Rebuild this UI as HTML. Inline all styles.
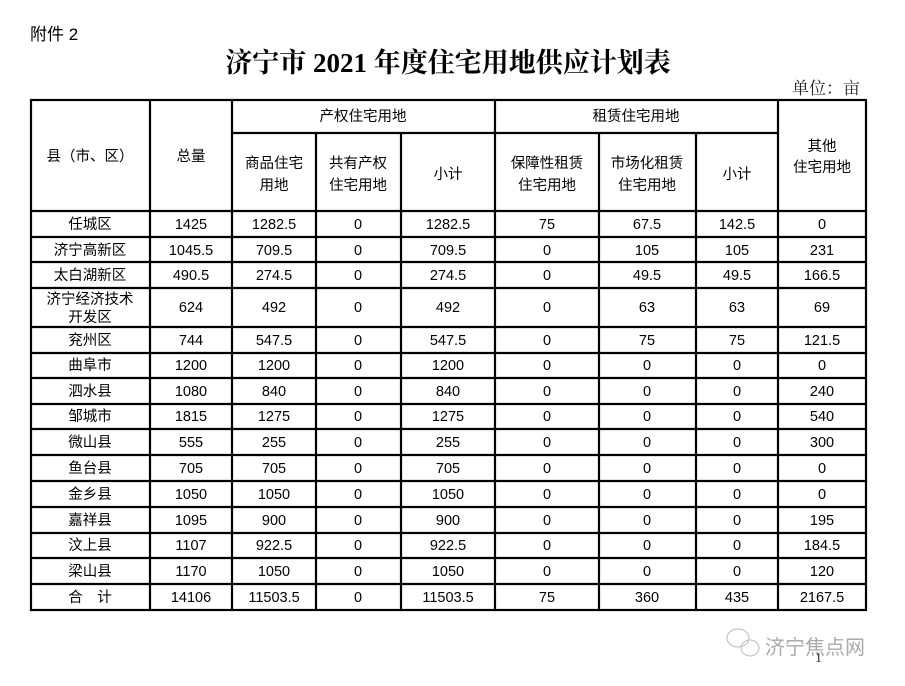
<!DOCTYPE html>
<html><head><meta charset="utf-8"><style>
html,body{margin:0;padding:0;background:#fff;width:905px;height:686px;overflow:hidden}
svg{display:block}
.t text{font-family:"Liberation Sans","Noto Sans CJK SC",sans-serif;font-size:14.5px;fill:#000;text-anchor:middle}
</style></head><body>
<svg width="905" height="686" xmlns="http://www.w3.org/2000/svg">
<text x="30" y="40" style="font-family:'Liberation Sans','Noto Sans CJK SC',sans-serif;font-size:17px">附件 2</text>
<text x="448" y="72" style="font-family:'Liberation Serif','Noto Serif CJK SC',serif;font-size:27px;font-weight:bold;text-anchor:middle">济宁市 2021 年度住宅用地供应计划表</text>
<text x="860" y="94" style="font-family:'Liberation Serif','Noto Serif CJK SC',serif;font-size:17px;text-anchor:end;fill:#222">单位：亩</text>
<g stroke="#000" stroke-width="2.2" fill="none">
<rect x="31" y="100" width="835" height="510"/>
<line x1="232" y1="133" x2="778" y2="133"/>
<line x1="31" y1="211" x2="866" y2="211"/>
<line x1="150" y1="100" x2="150" y2="610"/>
<line x1="232" y1="100" x2="232" y2="610"/>
<line x1="316" y1="133" x2="316" y2="610"/>
<line x1="401" y1="133" x2="401" y2="610"/>
<line x1="495" y1="100" x2="495" y2="610"/>
<line x1="599" y1="133" x2="599" y2="610"/>
<line x1="696" y1="133" x2="696" y2="610"/>
<line x1="778" y1="100" x2="778" y2="610"/>
<line x1="31" y1="237" x2="866" y2="237"/>
<line x1="31" y1="262" x2="866" y2="262"/>
<line x1="31" y1="288" x2="866" y2="288"/>
<line x1="31" y1="327" x2="866" y2="327"/>
<line x1="31" y1="353" x2="866" y2="353"/>
<line x1="31" y1="378" x2="866" y2="378"/>
<line x1="31" y1="404" x2="866" y2="404"/>
<line x1="31" y1="429" x2="866" y2="429"/>
<line x1="31" y1="455" x2="866" y2="455"/>
<line x1="31" y1="481" x2="866" y2="481"/>
<line x1="31" y1="507" x2="866" y2="507"/>
<line x1="31" y1="533" x2="866" y2="533"/>
<line x1="31" y1="558" x2="866" y2="558"/>
<line x1="31" y1="584" x2="866" y2="584"/>
</g>
<g class="t">
<text x="90" y="161">县（市、区）</text>
<text x="191" y="161">总量</text>
<text x="363" y="121">产权住宅用地</text>
<text x="636" y="121">租赁住宅用地</text>
<text x="274" y="168">商品住宅</text><text x="274" y="190">用地</text>
<text x="358" y="168">共有产权</text><text x="358" y="190">住宅用地</text>
<text x="448" y="179">小计</text>
<text x="547" y="168">保障性租赁</text><text x="547" y="190">住宅用地</text>
<text x="647" y="168">市场化租赁</text><text x="647" y="190">住宅用地</text>
<text x="737" y="179">小计</text>
<text x="822" y="151">其他</text><text x="822" y="172">住宅用地</text>

<text x="90" y="229">任城区</text><text x="191" y="229">1425</text><text x="274" y="229">1282.5</text><text x="358" y="229">0</text><text x="448" y="229">1282.5</text><text x="547" y="229">75</text><text x="647" y="229">67.5</text><text x="737" y="229">142.5</text><text x="822" y="229">0</text>
<text x="90" y="255">济宁高新区</text><text x="191" y="255">1045.5</text><text x="274" y="255">709.5</text><text x="358" y="255">0</text><text x="448" y="255">709.5</text><text x="547" y="255">0</text><text x="647" y="255">105</text><text x="737" y="255">105</text><text x="822" y="255">231</text>
<text x="90" y="280">太白湖新区</text><text x="191" y="280">490.5</text><text x="274" y="280">274.5</text><text x="358" y="280">0</text><text x="448" y="280">274.5</text><text x="547" y="280">0</text><text x="647" y="280">49.5</text><text x="737" y="280">49.5</text><text x="822" y="280">166.5</text>
<text x="90" y="304">济宁经济技术</text><text x="90" y="322">开发区</text><text x="191" y="312">624</text><text x="274" y="312">492</text><text x="358" y="312">0</text><text x="448" y="312">492</text><text x="547" y="312">0</text><text x="647" y="312">63</text><text x="737" y="312">63</text><text x="822" y="312">69</text>
<text x="90" y="345">兖州区</text><text x="191" y="345">744</text><text x="274" y="345">547.5</text><text x="358" y="345">0</text><text x="448" y="345">547.5</text><text x="547" y="345">0</text><text x="647" y="345">75</text><text x="737" y="345">75</text><text x="822" y="345">121.5</text>
<text x="90" y="370">曲阜市</text><text x="191" y="370">1200</text><text x="274" y="370">1200</text><text x="358" y="370">0</text><text x="448" y="370">1200</text><text x="547" y="370">0</text><text x="647" y="370">0</text><text x="737" y="370">0</text><text x="822" y="370">0</text>
<text x="90" y="396">泗水县</text><text x="191" y="396">1080</text><text x="274" y="396">840</text><text x="358" y="396">0</text><text x="448" y="396">840</text><text x="547" y="396">0</text><text x="647" y="396">0</text><text x="737" y="396">0</text><text x="822" y="396">240</text>
<text x="90" y="421">邹城市</text><text x="191" y="421">1815</text><text x="274" y="421">1275</text><text x="358" y="421">0</text><text x="448" y="421">1275</text><text x="547" y="421">0</text><text x="647" y="421">0</text><text x="737" y="421">0</text><text x="822" y="421">540</text>
<text x="90" y="447">微山县</text><text x="191" y="447">555</text><text x="274" y="447">255</text><text x="358" y="447">0</text><text x="448" y="447">255</text><text x="547" y="447">0</text><text x="647" y="447">0</text><text x="737" y="447">0</text><text x="822" y="447">300</text>
<text x="90" y="473">鱼台县</text><text x="191" y="473">705</text><text x="274" y="473">705</text><text x="358" y="473">0</text><text x="448" y="473">705</text><text x="547" y="473">0</text><text x="647" y="473">0</text><text x="737" y="473">0</text><text x="822" y="473">0</text>
<text x="90" y="499">金乡县</text><text x="191" y="499">1050</text><text x="274" y="499">1050</text><text x="358" y="499">0</text><text x="448" y="499">1050</text><text x="547" y="499">0</text><text x="647" y="499">0</text><text x="737" y="499">0</text><text x="822" y="499">0</text>
<text x="90" y="525">嘉祥县</text><text x="191" y="525">1095</text><text x="274" y="525">900</text><text x="358" y="525">0</text><text x="448" y="525">900</text><text x="547" y="525">0</text><text x="647" y="525">0</text><text x="737" y="525">0</text><text x="822" y="525">195</text>
<text x="90" y="550">汶上县</text><text x="191" y="550">1107</text><text x="274" y="550">922.5</text><text x="358" y="550">0</text><text x="448" y="550">922.5</text><text x="547" y="550">0</text><text x="647" y="550">0</text><text x="737" y="550">0</text><text x="822" y="550">184.5</text>
<text x="90" y="576">梁山县</text><text x="191" y="576">1170</text><text x="274" y="576">1050</text><text x="358" y="576">0</text><text x="448" y="576">1050</text><text x="547" y="576">0</text><text x="647" y="576">0</text><text x="737" y="576">0</text><text x="822" y="576">120</text>
<text x="90" y="602">合　计</text><text x="191" y="602">14106</text><text x="274" y="602">11503.5</text><text x="358" y="602">0</text><text x="448" y="602">11503.5</text><text x="547" y="602">75</text><text x="647" y="602">360</text><text x="737" y="602">435</text><text x="822" y="602">2167.5</text>
</g>
<g fill="none" stroke="#bbb" stroke-width="1"><ellipse cx="738" cy="638" rx="11" ry="9"/><ellipse cx="750" cy="648" rx="9" ry="8"/></g>
<text x="765" y="654" style="font-family:'Noto Sans CJK SC',sans-serif;font-size:20px;fill:#aaa">济宁焦点网</text>
<text x="815" y="662" style="font-family:'Liberation Serif',serif;font-size:14px;fill:#333">1</text>
</svg>
</body></html>
